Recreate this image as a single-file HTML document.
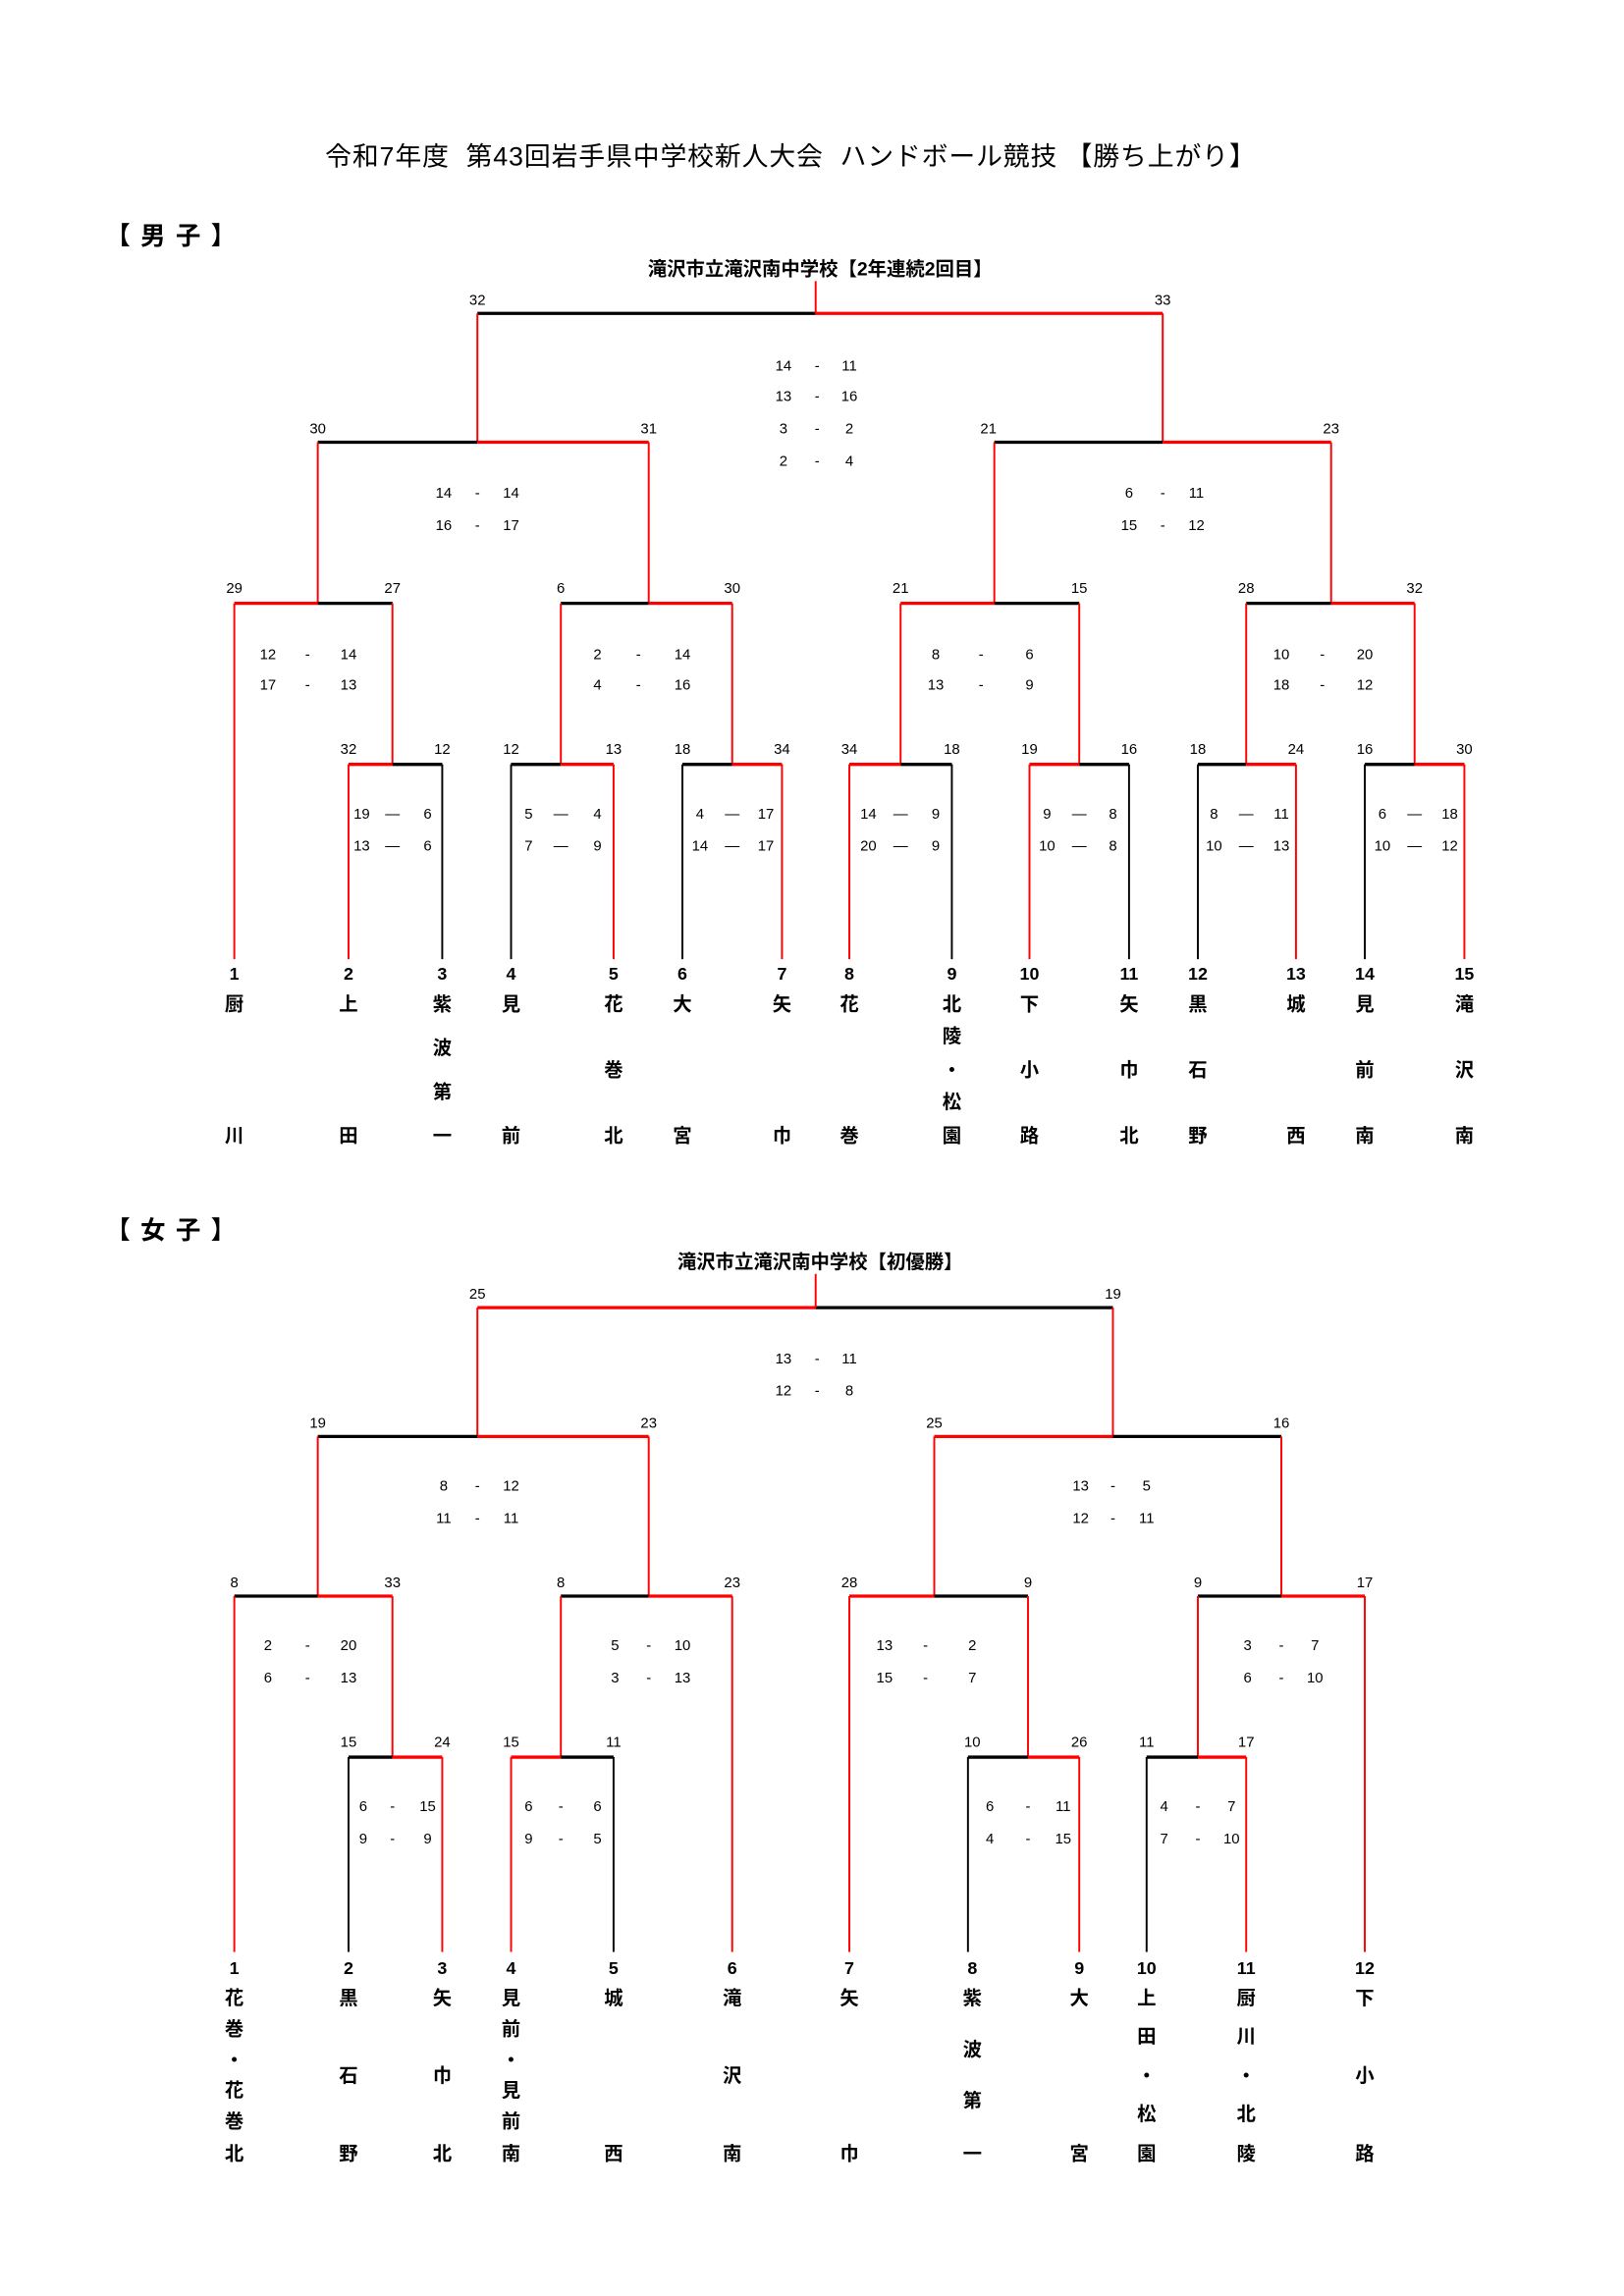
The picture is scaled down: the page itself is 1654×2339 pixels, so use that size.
<!DOCTYPE html>
<html><head><meta charset="utf-8"><style>
html,body{margin:0;padding:0;background:#fff}
svg{display:block}
text{font-family:"Liberation Sans","Noto Sans CJK JP",sans-serif;fill:#000}
.n{font-size:10px;font-family:"Liberation Sans Narrow","Liberation Sans",sans-serif}
.b{font-size:12px;font-weight:bold}
.nm{font-size:13px;font-weight:bold}
.r{stroke:#f00;fill:none}
.k{stroke:#000;fill:none}
.h{stroke-width:2.2}
.v{stroke-width:1.3}
</style></head><body>
<svg width="1654" height="2339" viewBox="0 0 1109 1568" preserveAspectRatio="none" xmlns="http://www.w3.org/2000/svg">
<text x="540" y="113" font-size="18" letter-spacing="0.6" text-anchor="middle">令和7年度&#160; 第43回岩手県中学校新人大会&#160; ハンドボール競技 【勝ち上がり】</text>
<text x="72" y="167" font-size="17" font-weight="bold" letter-spacing="7">【男子】</text>
<text x="72" y="846" font-size="17" font-weight="bold" letter-spacing="7">【女子】</text>
<text x="560" y="188" font-size="13" font-weight="bold" text-anchor="middle">滝沢市立滝沢南中学校【2年連続2回目】</text>
<text x="560" y="866" font-size="13" font-weight="bold" text-anchor="middle">滝沢市立滝沢南中学校【初優勝】</text>

<!-- MEN lines -->
<g>
<path class="k h" d="M326 214H557"/><path class="r h" d="M557 214H794"/>
<path class="r v" d="M557 192V214M326 214V302M794 214V302"/>
<path class="k h" d="M217 302H326"/><path class="r h" d="M326 302H443"/>
<path class="r v" d="M217 302V412M443 302V412"/>
<path class="k h" d="M679 302H794"/><path class="r h" d="M794 302H909"/>
<path class="r v" d="M679 302V412M909 302V412"/>
<path class="r h" d="M160 412H217"/><path class="k h" d="M217 412H268"/>
<path class="r v" d="M160 412V655M268 412V522"/>
<path class="k h" d="M383 412H443"/><path class="r h" d="M443 412H500"/>
<path class="r v" d="M383 412V522M500 412V522"/>
<path class="r h" d="M615 412H679"/><path class="k h" d="M679 412H737"/>
<path class="r v" d="M615 412V522M737 412V522"/>
<path class="k h" d="M851 412H909"/><path class="r h" d="M909 412H966"/>
<path class="r v" d="M851 412V522M966 412V522"/>
<path class="r h" d="M238 522H268"/><path class="k h" d="M268 522H302"/><path class="r v" d="M238 522V655"/><path class="k v" d="M302 522V655"/>
<path class="k h" d="M349 522H383"/><path class="r h" d="M383 522H419"/><path class="k v" d="M349 522V655"/><path class="r v" d="M419 522V655"/>
<path class="k h" d="M466 522H500"/><path class="r h" d="M500 522H534"/><path class="k v" d="M466 522V655"/><path class="r v" d="M534 522V655"/>
<path class="r h" d="M580 522H615"/><path class="k h" d="M615 522H650"/><path class="r v" d="M580 522V655"/><path class="k v" d="M650 522V655"/>
<path class="r h" d="M703 522H737"/><path class="k h" d="M737 522H771"/><path class="r v" d="M703 522V655"/><path class="k v" d="M771 522V655"/>
<path class="k h" d="M818 522H851"/><path class="r h" d="M851 522H885"/><path class="k v" d="M818 522V655"/><path class="r v" d="M885 522V655"/>
<path class="k h" d="M932 522H966"/><path class="r h" d="M966 522H1000"/><path class="k v" d="M932 522V655"/><path class="r v" d="M1000 522V655"/>
</g>
<g class="n" text-anchor="middle">
<text x="326" y="208">32</text><text x="794" y="208">33</text>
<text x="217" y="296">30</text><text x="443" y="296">31</text><text x="675" y="296">21</text><text x="909" y="296">23</text>
<text x="160" y="405">29</text><text x="268" y="405">27</text><text x="383" y="405">6</text><text x="500" y="405">30</text>
<text x="615" y="405">21</text><text x="737" y="405">15</text><text x="851" y="405">28</text><text x="966" y="405">32</text>
<text x="238" y="515">32</text><text x="302" y="515">12</text><text x="349" y="515">12</text><text x="419" y="515">13</text>
<text x="466" y="515">18</text><text x="534" y="515">34</text><text x="580" y="515">34</text><text x="650" y="515">18</text>
<text x="703" y="515">19</text><text x="771" y="515">16</text><text x="818" y="515">18</text><text x="885" y="515">24</text>
<text x="932" y="515">16</text><text x="1000" y="515">30</text>
<text x="535" y="253">14</text><text x="558" y="253">-</text><text x="580" y="253">11</text>
<text x="535" y="274">13</text><text x="558" y="274">-</text><text x="580" y="274">16</text>
<text x="535" y="296">3</text><text x="558" y="296">-</text><text x="580" y="296">2</text>
<text x="535" y="318">2</text><text x="558" y="318">-</text><text x="580" y="318">4</text>
<text x="303" y="340">14</text><text x="326" y="340">-</text><text x="349" y="340">14</text>
<text x="303" y="362">16</text><text x="326" y="362">-</text><text x="349" y="362">17</text>
<text x="771" y="340">6</text><text x="794" y="340">-</text><text x="817" y="340">11</text>
<text x="771" y="362">15</text><text x="794" y="362">-</text><text x="817" y="362">12</text>
<text x="183" y="450">12</text><text x="210" y="450">-</text><text x="238" y="450">14</text>
<text x="183" y="471">17</text><text x="210" y="471">-</text><text x="238" y="471">13</text>
<text x="408" y="450">2</text><text x="436" y="450">-</text><text x="466" y="450">14</text>
<text x="408" y="471">4</text><text x="436" y="471">-</text><text x="466" y="471">16</text>
<text x="639" y="450">8</text><text x="670" y="450">-</text><text x="703" y="450">6</text>
<text x="639" y="471">13</text><text x="670" y="471">-</text><text x="703" y="471">9</text>
<text x="875" y="450">10</text><text x="903" y="450">-</text><text x="932" y="450">20</text>
<text x="875" y="471">18</text><text x="903" y="471">-</text><text x="932" y="471">12</text>
<text x="247" y="559">19</text><text x="268" y="559">—</text><text x="292" y="559">6</text>
<text x="247" y="581">13</text><text x="268" y="581">—</text><text x="292" y="581">6</text>
<text x="361" y="559">5</text><text x="383" y="559">—</text><text x="408" y="559">4</text>
<text x="361" y="581">7</text><text x="383" y="581">—</text><text x="408" y="581">9</text>
<text x="478" y="559">4</text><text x="500" y="559">—</text><text x="523" y="559">17</text>
<text x="478" y="581">14</text><text x="500" y="581">—</text><text x="523" y="581">17</text>
<text x="593" y="559">14</text><text x="615" y="559">—</text><text x="639" y="559">9</text>
<text x="593" y="581">20</text><text x="615" y="581">—</text><text x="639" y="581">9</text>
<text x="715" y="559">9</text><text x="737" y="559">—</text><text x="760" y="559">8</text>
<text x="715" y="581">10</text><text x="737" y="581">—</text><text x="760" y="581">8</text>
<text x="829" y="559">8</text><text x="851" y="559">—</text><text x="875" y="559">11</text>
<text x="829" y="581">10</text><text x="851" y="581">—</text><text x="875" y="581">13</text>
<text x="944" y="559">6</text><text x="966" y="559">—</text><text x="990" y="559">18</text>
<text x="944" y="581">10</text><text x="966" y="581">—</text><text x="990" y="581">12</text>
</g>
<g class="b" text-anchor="middle">
<text x="160" y="669">1</text><text x="238" y="669">2</text><text x="302" y="669">3</text><text x="349" y="669">4</text><text x="419" y="669">5</text>
<text x="466" y="669">6</text><text x="534" y="669">7</text><text x="580" y="669">8</text><text x="650" y="669">9</text><text x="703" y="669">10</text>
<text x="771" y="669">11</text><text x="818" y="669">12</text><text x="885" y="669">13</text><text x="932" y="669">14</text><text x="1000" y="669">15</text>
</g>
<g class="nm" text-anchor="middle">
<text x="160" y="690">厨</text><text x="160" y="780">川</text>
<text x="238" y="690">上</text><text x="238" y="780">田</text>
<text x="302" y="690">紫</text><text x="302" y="720">波</text><text x="302" y="750">第</text><text x="302" y="780">一</text>
<text x="349" y="690">見</text><text x="349" y="780">前</text>
<text x="419" y="690">花</text><text x="419" y="735">巻</text><text x="419" y="780">北</text>
<text x="466" y="690">大</text><text x="466" y="780">宮</text>
<text x="534" y="690">矢</text><text x="534" y="780">巾</text>
<text x="580" y="690">花</text><text x="580" y="780">巻</text>
<text x="650" y="690">北</text><text x="650" y="712">陵</text><text x="650" y="735">・</text><text x="650" y="757">松</text><text x="650" y="780">園</text>
<text x="703" y="690">下</text><text x="703" y="735">小</text><text x="703" y="780">路</text>
<text x="771" y="690">矢</text><text x="771" y="735">巾</text><text x="771" y="780">北</text>
<text x="818" y="690">黒</text><text x="818" y="735">石</text><text x="818" y="780">野</text>
<text x="885" y="690">城</text><text x="885" y="780">西</text>
<text x="932" y="690">見</text><text x="932" y="735">前</text><text x="932" y="780">南</text>
<text x="1000" y="690">滝</text><text x="1000" y="735">沢</text><text x="1000" y="780">南</text>
</g>

<!-- WOMEN lines -->
<g>
<path class="r h" d="M326 893H557"/><path class="k h" d="M557 893H760"/>
<path class="r v" d="M557 870V893M326 893V981M760 893V981"/>
<path class="k h" d="M217 981H326"/><path class="r h" d="M326 981H443"/>
<path class="r v" d="M217 981V1090M443 981V1090"/>
<path class="r h" d="M638 981H760"/><path class="k h" d="M760 981H875"/>
<path class="r v" d="M638 981V1090M875 981V1090"/>
<path class="k h" d="M160 1090H217"/><path class="r h" d="M217 1090H268"/>
<path class="r v" d="M160 1090V1333M268 1090V1200"/>
<path class="k h" d="M383 1090H443"/><path class="r h" d="M443 1090H500"/>
<path class="r v" d="M383 1090V1200M500 1090V1333"/>
<path class="r h" d="M580 1090H638"/><path class="k h" d="M638 1090H702"/>
<path class="r v" d="M580 1090V1333M702 1090V1200"/>
<path class="k h" d="M818 1090H875"/><path class="r h" d="M875 1090H932"/>
<path class="r v" d="M818 1090V1200M932 1090V1333"/>
<path class="k h" d="M238 1200H268"/><path class="r h" d="M268 1200H302"/><path class="k v" d="M238 1200V1333"/><path class="r v" d="M302 1200V1333"/>
<path class="r h" d="M349 1200H383"/><path class="k h" d="M383 1200H419"/><path class="r v" d="M349 1200V1333"/><path class="k v" d="M419 1200V1333"/>
<path class="k h" d="M661 1200H702"/><path class="r h" d="M702 1200H737"/><path class="k v" d="M661 1200V1333"/><path class="r v" d="M737 1200V1333"/>
<path class="k h" d="M783 1200H818"/><path class="r h" d="M818 1200H851"/><path class="k v" d="M783 1200V1333"/><path class="r v" d="M851 1200V1333"/>
</g>
<g class="n" text-anchor="middle">
<text x="326" y="887">25</text><text x="760" y="887">19</text>
<text x="217" y="975">19</text><text x="443" y="975">23</text><text x="638" y="975">25</text><text x="875" y="975">16</text>
<text x="160" y="1084">8</text><text x="268" y="1084">33</text><text x="383" y="1084">8</text><text x="500" y="1084">23</text>
<text x="580" y="1084">28</text><text x="702" y="1084">9</text><text x="818" y="1084">9</text><text x="932" y="1084">17</text>
<text x="238" y="1193">15</text><text x="302" y="1193">24</text><text x="349" y="1193">15</text><text x="419" y="1193">11</text>
<text x="664" y="1193">10</text><text x="737" y="1193">26</text><text x="783" y="1193">11</text><text x="851" y="1193">17</text>
<text x="535" y="931">13</text><text x="558" y="931">-</text><text x="580" y="931">11</text>
<text x="535" y="953">12</text><text x="558" y="953">-</text><text x="580" y="953">8</text>
<text x="303" y="1018">8</text><text x="326" y="1018">-</text><text x="349" y="1018">12</text>
<text x="303" y="1040">11</text><text x="326" y="1040">-</text><text x="349" y="1040">11</text>
<text x="738" y="1018">13</text><text x="760" y="1018">-</text><text x="783" y="1018">5</text>
<text x="738" y="1040">12</text><text x="760" y="1040">-</text><text x="783" y="1040">11</text>
<text x="183" y="1127">2</text><text x="210" y="1127">-</text><text x="238" y="1127">20</text>
<text x="183" y="1149">6</text><text x="210" y="1149">-</text><text x="238" y="1149">13</text>
<text x="420" y="1127">5</text><text x="443" y="1127">-</text><text x="466" y="1127">10</text>
<text x="420" y="1149">3</text><text x="443" y="1149">-</text><text x="466" y="1149">13</text>
<text x="604" y="1127">13</text><text x="632" y="1127">-</text><text x="664" y="1127">2</text>
<text x="604" y="1149">15</text><text x="632" y="1149">-</text><text x="664" y="1149">7</text>
<text x="852" y="1127">3</text><text x="875" y="1127">-</text><text x="898" y="1127">7</text>
<text x="852" y="1149">6</text><text x="875" y="1149">-</text><text x="898" y="1149">10</text>
<text x="248" y="1237">6</text><text x="268" y="1237">-</text><text x="292" y="1237">15</text>
<text x="248" y="1259">9</text><text x="268" y="1259">-</text><text x="292" y="1259">9</text>
<text x="361" y="1237">6</text><text x="383" y="1237">-</text><text x="408" y="1237">6</text>
<text x="361" y="1259">9</text><text x="383" y="1259">-</text><text x="408" y="1259">5</text>
<text x="676" y="1237">6</text><text x="702" y="1237">-</text><text x="726" y="1237">11</text>
<text x="676" y="1259">4</text><text x="702" y="1259">-</text><text x="726" y="1259">15</text>
<text x="795" y="1237">4</text><text x="818" y="1237">-</text><text x="841" y="1237">7</text>
<text x="795" y="1259">7</text><text x="818" y="1259">-</text><text x="841" y="1259">10</text>
</g>
<g class="b" text-anchor="middle">
<text x="160" y="1348">1</text><text x="238" y="1348">2</text><text x="302" y="1348">3</text><text x="349" y="1348">4</text>
<text x="419" y="1348">5</text><text x="500" y="1348">6</text><text x="580" y="1348">7</text><text x="664" y="1348">8</text>
<text x="737" y="1348">9</text><text x="783" y="1348">10</text><text x="851" y="1348">11</text><text x="932" y="1348">12</text>
</g>
<g class="nm" text-anchor="middle">
<text x="160" y="1369">花</text><text x="160" y="1390">巻</text><text x="160" y="1411">・</text><text x="160" y="1432">花</text><text x="160" y="1453">巻</text><text x="160" y="1475">北</text>
<text x="238" y="1369">黒</text><text x="238" y="1422">石</text><text x="238" y="1475">野</text>
<text x="302" y="1369">矢</text><text x="302" y="1422">巾</text><text x="302" y="1475">北</text>
<text x="349" y="1369">見</text><text x="349" y="1390">前</text><text x="349" y="1411">・</text><text x="349" y="1432">見</text><text x="349" y="1453">前</text><text x="349" y="1475">南</text>
<text x="419" y="1369">城</text><text x="419" y="1475">西</text>
<text x="500" y="1369">滝</text><text x="500" y="1422">沢</text><text x="500" y="1475">南</text>
<text x="580" y="1369">矢</text><text x="580" y="1475">巾</text>
<text x="664" y="1369">紫</text><text x="664" y="1404">波</text><text x="664" y="1439">第</text><text x="664" y="1475">一</text>
<text x="737" y="1369">大</text><text x="737" y="1475">宮</text>
<text x="783" y="1369">上</text><text x="783" y="1395">田</text><text x="783" y="1422">・</text><text x="783" y="1448">松</text><text x="783" y="1475">園</text>
<text x="851" y="1369">厨</text><text x="851" y="1395">川</text><text x="851" y="1422">・</text><text x="851" y="1448">北</text><text x="851" y="1475">陵</text>
<text x="932" y="1369">下</text><text x="932" y="1422">小</text><text x="932" y="1475">路</text>
</g>
</svg>
</body></html>
